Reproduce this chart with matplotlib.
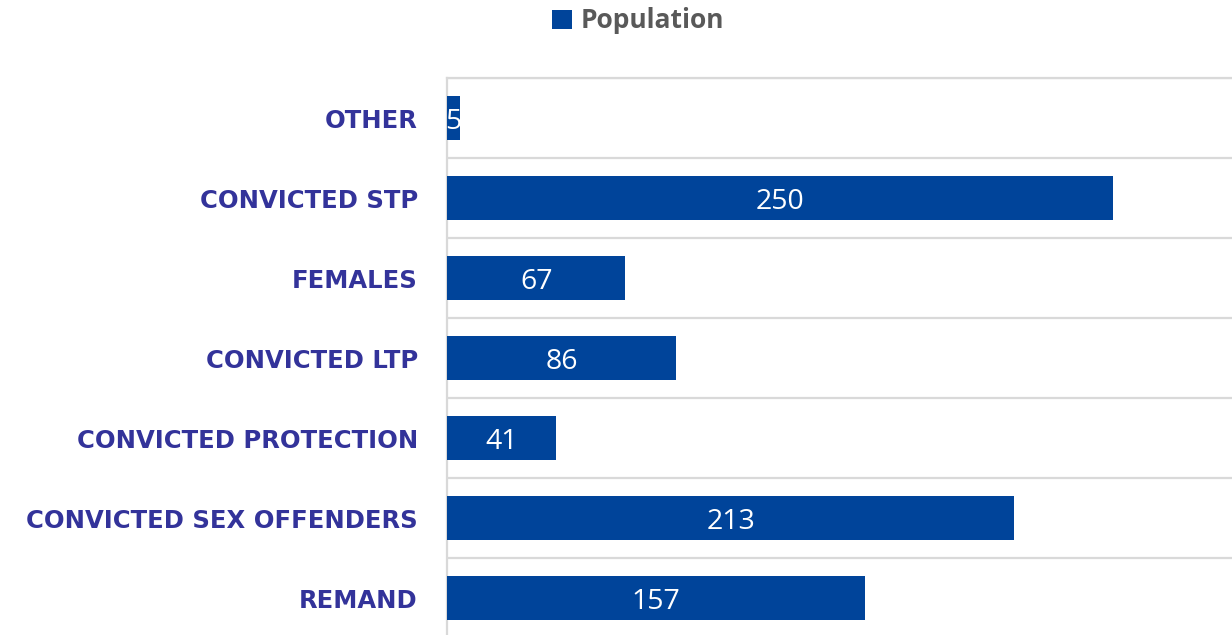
import matplotlib.pyplot as plt
import matplotlib.transforms as mtransforms
import numpy as np

categories = ["OTHER", "CONVICTED STP", "FEMALES", "CONVICTED LTP",
              "CONVICTED PROTECTION", "CONVICTED SEX OFFENDERS", "REMAND"]
population = [5, 250, 67, 86, 41, 213, 157]

bar_color = "#00449a"
label_color = "#33339a"
grid_color = "#d9d9d9"

fig = plt.figure(figsize=(12.32, 6.35), dpi=100)
ax = fig.add_axes([447 / 1232, -3 / 635, 785 / 1232, 560 / 635])

y = np.arange(len(categories))
bars = ax.barh(y, population, height=0.56, color=bar_color, zorder=3, label="Population")

# value labels, centred in each bar (nudged down a little like the original)
shift = mtransforms.offset_copy(ax.transData, fig=fig, x=0, y=-4, units="dots")
for yi, v in zip(y, population):
    ax.text(v / 2, yi, str(v), transform=shift, ha="center", va="center",
            color="white", fontsize=20.5, family="Open Sans", zorder=4)

ax.set_ylim(len(categories) - 0.5, -0.5)
ax.set_xlim(0, 294.7)
ax.set_yticks(y)
ax.set_yticklabels(categories, fontsize=17.5, fontweight="bold", color=label_color,
                   family="DejaVu Sans")
ax.tick_params(axis="y", length=0, pad=21)
ax.set_xticks([])

# category separators
ax.set_yticks(np.arange(-0.5, len(categories) + 0.5, 1), minor=True)
ax.tick_params(axis="y", which="minor", length=0)
ax.grid(axis="y", which="minor", color=grid_color, linewidth=1.6, zorder=0)
ax.axhline(-0.5, color=grid_color, linewidth=1.6, clip_on=False, zorder=0)

for s in ["top", "right", "bottom"]:
    ax.spines[s].set_visible(False)
ax.spines["left"].set_color(grid_color)
ax.spines["left"].set_linewidth(1.6)

fig.legend(handles=[bars], labels=["Population"], loc="center",
           bbox_to_anchor=(638 / 1232, 1 - 21 / 635), frameon=False,
           prop={"family": "Open Sans", "weight": "bold", "size": 19},
           labelcolor="#595959", handlelength=0.75, handleheight=0.75,
           handletextpad=0.35)

fig.savefig("out.png", dpi=100)
